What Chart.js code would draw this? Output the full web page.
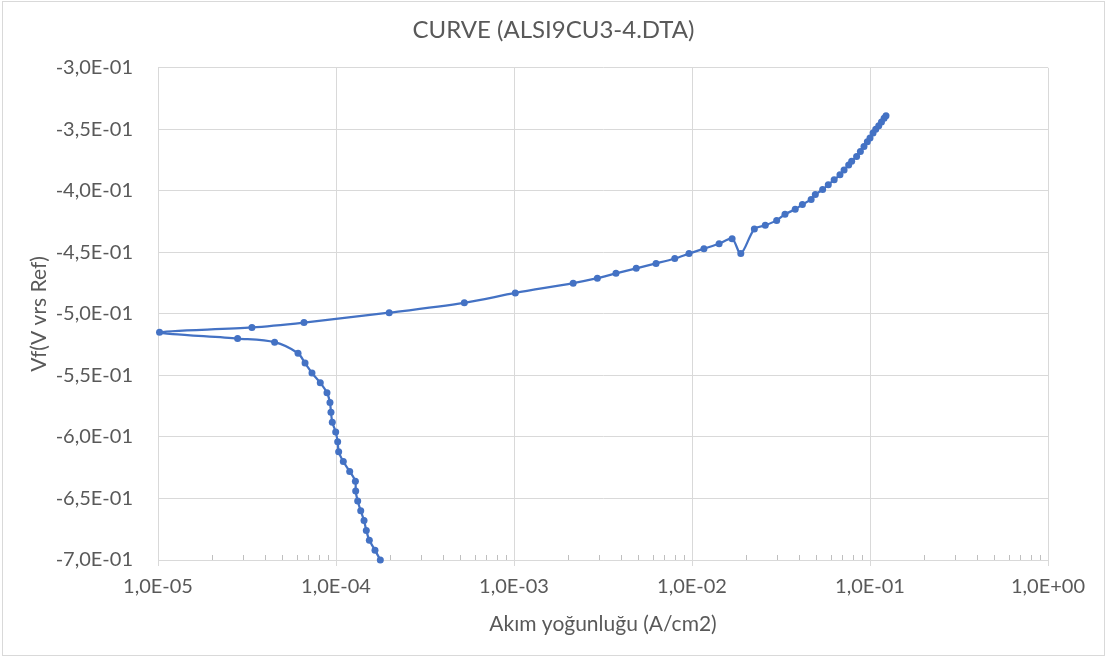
<!DOCTYPE html>
<html><head><meta charset="utf-8">
<script src="https://cdn.jsdelivr.net/npm/chart.js@4/dist/chart.umd.min.js"></script>
<style>html,body{margin:0;padding:0;background:#fff;overflow:hidden}</style>
</head><body>
<canvas id="c" width="1107" height="658"></canvas>
<script>
const chartTitle = 'CURVE (ALSI9CU3-4.DTA)';
const xAxisTitle = 'Akım yoğunluğu (A/cm2)';
const yAxisTitle = 'Vf(V vrs Ref)';

// cathodic branch (scan from -0.70 V up to corrosion potential)
const cathodicCurrent = [1.774e-4, 1.656e-4, 1.539e-4, 1.480e-4, 1.437e-4, 1.377e-4, 1.324e-4, 1.290e-4, 1.285e-4, 1.194e-4, 1.099e-4, 1.035e-4, 1.022e-4, 9.96e-5, 9.53e-5, 9.37e-5, 9.25e-5, 8.90e-5, 8.16e-5, 7.33e-5, 6.70e-5, 6.12e-5, 4.52e-5, 2.80e-5, 1.02e-5];
const cathodicPotential = [-0.700, -0.692, -0.684, -0.676, -0.668, -0.660, -0.652, -0.644, -0.636, -0.628, -0.620, -0.612, -0.604, -0.596, -0.588, -0.580, -0.572, -0.564, -0.556, -0.548, -0.540, -0.532, -0.523, -0.520, -0.515];
// anodic branch
const anodicCurrent = [3.37e-5, 6.61e-5, 1.99e-4, 5.26e-4, 1.017e-3, 2.15e-3, 2.94e-3, 3.74e-3, 4.86e-3, 6.28e-3, 8.00e-3, 9.62e-3, 1.167e-2, 1.42e-2, 1.68e-2, 1.88e-2, 2.24e-2, 2.58e-2, 2.99e-2, 3.33e-2, 3.80e-2, 4.17e-2, 4.67e-2, 4.93e-2, 5.42e-2, 5.83e-2, 6.29e-2, 6.78e-2, 7.15e-2, 7.59e-2, 7.89e-2, 8.41e-2, 8.83e-2, 9.25e-2, 9.66e-2, 1.00e-1, 1.04e-1, 1.077e-1, 1.12e-1, 1.16e-1, 1.20e-1, 1.23e-1];
const anodicPotential = [-0.511, -0.507, -0.499, -0.491, -0.483, -0.475, -0.471, -0.467, -0.463, -0.459, -0.455, -0.451, -0.447, -0.443, -0.439, -0.451, -0.431, -0.428, -0.424, -0.419, -0.415, -0.411, -0.407, -0.403, -0.399, -0.395, -0.391, -0.387, -0.383, -0.379, -0.376, -0.372, -0.368, -0.364, -0.360, -0.357, -0.353, -0.350, -0.347, -0.344, -0.341, -0.339];

const xMajorTicks = [1e-5, 1e-4, 1e-3, 1e-2, 1e-1, 1];
const yTicks = [-0.70, -0.65, -0.60, -0.55, -0.50, -0.45, -0.40, -0.35, -0.30];

const points = cathodicCurrent.map((x, i) => ({x, y: cathodicPotential[i]}))
  .concat(anodicCurrent.map((x, i) => ({x, y: anodicPotential[i]})));

const xAllTicks = [];
xMajorTicks.forEach((m, i) => {
  xAllTicks.push(m);
  if (i < xMajorTicks.length - 1) for (let k = 2; k <= 9; k++) xAllTicks.push(m * k);
});
const isMajor = v => Math.abs(Math.log10(v) - Math.round(Math.log10(v))) < 1e-6;
function sci(v) {
  const [m, e] = Number(v).toExponential(1).split('e');
  const n = parseInt(e, 10);
  return m.replace('.', ',') + 'E' + (n < 0 ? '-' : '+') + String(Math.abs(n)).padStart(2, '0');
}

const FONT = 'Lato, "Open Sans", sans-serif';
const TXT = '#595959';
const GRID = '#d9d9d9';

const decor = {
  id: 'decor',
  beforeDraw(chart) {
    const ctx = chart.ctx;
    ctx.save();
    ctx.fillStyle = '#fff';
    ctx.fillRect(0, 0, chart.width, chart.height);
    ctx.strokeStyle = GRID;
    ctx.lineWidth = 1;
    ctx.strokeRect(2.5, 1.5, chart.width - 5, chart.height - 4);
    ctx.restore();
  },
  beforeDatasetsDraw(chart) {
    const xs = chart.scales.x, ctx = chart.ctx, b = chart.chartArea.bottom;
    ctx.save();
    ctx.strokeStyle = '#bfbfbf';
    ctx.lineWidth = 1;
    xs.ticks.forEach(t => {
      if (!isMajor(t.value)) {
        const px = Math.round(xs.getPixelForValue(t.value)) + 0.5;
        ctx.beginPath(); ctx.moveTo(px, b); ctx.lineTo(px, b - 5); ctx.stroke();
      }
    });
    ctx.restore();
  }
};

new Chart(document.getElementById('c'), {
  type: 'scatter',
  data: { datasets: [{
    data: points,
    showLine: true,
    borderColor: '#4472C4',
    backgroundColor: '#4472C4',
    borderWidth: 2.25,
    pointRadius: 3.5,
    pointBorderWidth: 0,
    tension: 0.3,
    clip: 8
  }]},
  options: {
    responsive: false,
    animation: false,
    events: [],
    layout: { padding: 0 },
    plugins: {
      legend: { display: false },
      tooltip: { enabled: false },
      title: { display: true, text: chartTitle, color: TXT,
        font: { family: FONT, size: 24, weight: 'normal' }, padding: { top: 16, bottom: 23 } }
    },
    scales: {
      x: {
        type: 'logarithmic', min: 1e-5, max: 1,
        afterBuildTicks: s => { s.ticks = xAllTicks.map(v => ({value: v})); },
        afterFit: s => { s.height = 98; },
        grid: { color: c => (c.tick && isMajor(c.tick.value)) ? GRID : 'rgba(0,0,0,0)',
          tickColor: c => (c.tick && isMajor(c.tick.value)) ? GRID : 'rgba(0,0,0,0)',
          drawTicks: true, tickLength: 6 },
        border: { display: true, color: GRID },
        ticks: { autoSkip: false, maxRotation: 0, minRotation: 0, padding: 9, color: TXT,
          font: { family: FONT, size: 20 },
          callback: v => isMajor(v) ? sci(v) : '' },
        title: { display: true, text: xAxisTitle, color: TXT, font: { family: FONT, size: 21 }, padding: { top: 0, bottom: 21 } }
      },
      y: {
        min: -0.70, max: -0.30,
        afterBuildTicks: s => { s.ticks = yTicks.map(v => ({value: v})); },
        afterFit: s => { s.width = 158; },
        grid: { color: GRID, drawTicks: false },
        border: { display: true, color: GRID },
        ticks: { padding: 25, color: TXT, font: { family: FONT, size: 20 }, callback: v => sci(v) },
        title: { display: true, text: yAxisTitle, color: TXT, font: { family: FONT, size: 21 }, padding: { top: 27, bottom: 0 } }
      },
      yRight: {
        position: 'right', min: -0.70, max: -0.30,
        afterFit: s => { s.width = 59; },
        grid: { display: false, drawTicks: false },
        border: { display: false },
        ticks: { display: false }
      }
    }
  },
  plugins: [decor]
});
</script>
</body></html>
